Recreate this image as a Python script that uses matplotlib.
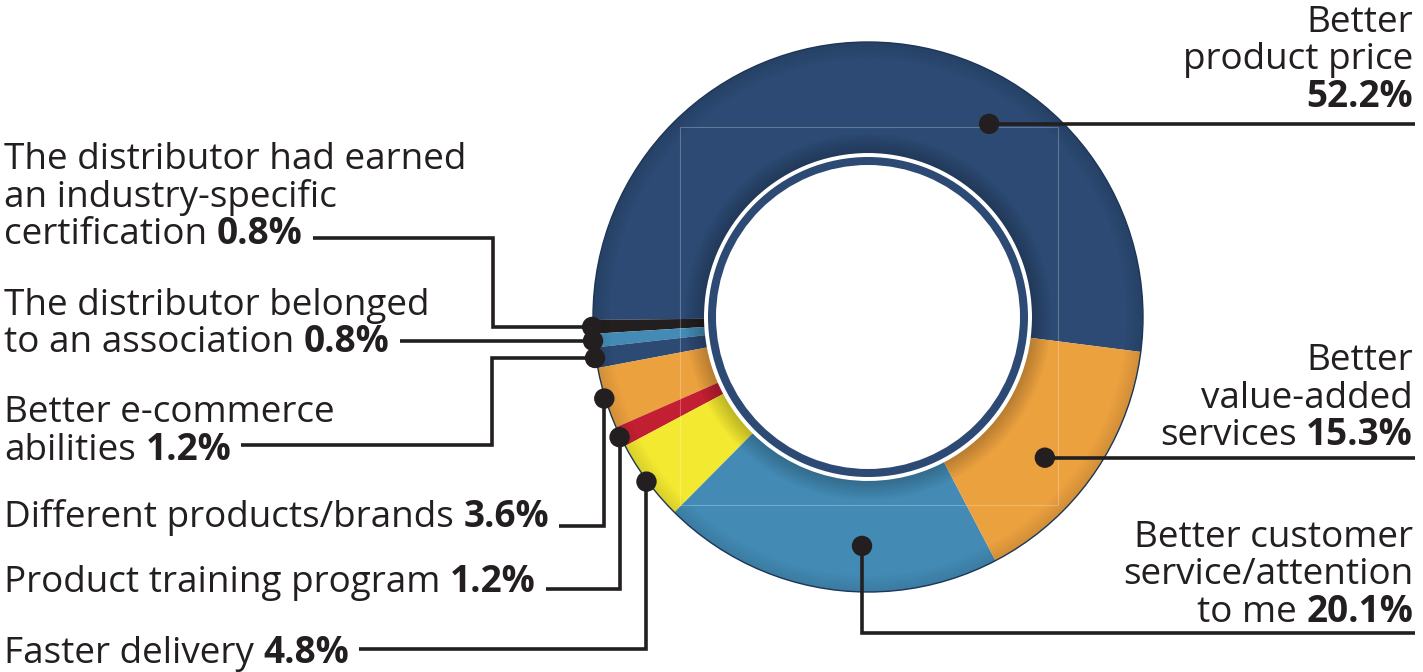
"""Donut chart: reasons for choosing a distributor."""

import matplotlib
matplotlib.use("Agg")
import numpy as np
import matplotlib.pyplot as plt
from matplotlib.patches import Wedge, Circle, Rectangle

W, H = 1423, 672

# slices, counter-clockwise on screen starting at the right side
names = [
    "Better product price",
    "Industry-specific certification",
    "Belonged to an association",
    "Better e-commerce abilities",
    "Different products/brands",
    "Product training program",
    "Faster delivery",
    "Better customer service/attention to me",
    "Better value-added services",
]
values = [52.2, 0.8, 0.8, 1.2, 3.6, 1.2, 4.8, 20.1, 15.3]
colors = ["#2c4a73", "#231f20", "#438bb5", "#2c4a73", "#eca13f",
          "#c21f32", "#f4e931", "#438bb5", "#eca13f"]

# label text: (regular part, bold part) per line
label_lines = [
    [("Better", ""), ("product price", ""), ("", "52.2%")],
    [("The distributor had earned", ""), ("an industry-specific", ""), ("certification", "0.8%")],
    [("The distributor belonged", ""), ("to an association", "0.8%")],
    [("Better e-commerce", ""), ("abilities", "1.2%")],
    [("Different products/brands", "3.6%")],
    [("Product training program", "1.2%")],
    [("Faster delivery", "4.8%")],
    [("Better customer", ""), ("service/attention", ""), ("to me", "20.1%")],
    [("Better", ""), ("value-added", ""), ("services", "15.3%")],
]

# layout (pixels)
CX, CY = 868, 317
R_OUT, R_IN = 275, 164
INK = "#231f20"
FONT = "Open Sans"
FS = 26.6
LEAD = 37.5

# per label: side, text anchor x, first baseline, dot (angle, radius), route
layout = [
    dict(side="right", x=1413, y0=32, dot=(57.9, 228), route="h", ly=None),
    dict(side="left", x=4, y0=169, dot=(None, 276), route="up", vx=493, ly=238),
    dict(side="left", x=4, y0=315, dot=(None, 276), route="h", ly=None),
    dict(side="left", x=4, y0=422, dot=(None, 276), route="up", vx=492, ly=445),
    dict(side="left", x=4, y0=527, dot=(None, 276), route="down", ly=526),
    dict(side="left", x=4, y0=592, dot=(None, 276), route="down", ly=589),
    dict(side="left", x=4, y0=663, dot=(None, 276), route="down", ly=649),
    dict(side="right", x=1413, y0=547, dot=(268.5, 229), route="down", ly=633),
    dict(side="right", x=1413, y0=370, dot=(321.5, 226), route="h", ly=None),
]

fig = plt.figure(figsize=(W / 100, H / 100), dpi=100)
ax = fig.add_axes([0, 0, 1, 1])

start = -7.3  # screen angle of the first slice edge
ax.pie(values, colors=colors, radius=R_OUT, center=(CX, CY),
       startangle=-start, counterclock=False,
       wedgeprops=dict(width=R_OUT - R_IN, linewidth=0))
ax.set_xlim(0, W)
ax.set_ylim(H, 0)
ax.set_aspect("equal")
ax.axis("off")

# soft shading at the rim and at the hole
for i in range(14):
    r = R_OUT - i * 1.2
    ax.add_patch(Wedge((CX, CY), r, 0, 360, width=1.2, color="black",
                       alpha=0.11 * (1 - i / 14), lw=0))
for i in range(16):
    r = R_IN + (i + 1) * 1.2
    ax.add_patch(Wedge((CX, CY), r, 0, 360, width=1.2, color="black",
                       alpha=0.22 * (1 - i / 16), lw=0))
ax.add_patch(Circle((CX, CY), R_OUT, fill=False, ec="#1d3557", lw=1.0))

# faint guide box left over in the artwork
ax.add_patch(Rectangle((680, 127), 378, 378, fill=False, ec="white",
                       lw=0.8, alpha=0.25))

# inner ring
ax.add_patch(Wedge((CX, CY), 160, 0, 360, width=8, color="#2c4a73", lw=0))

# mid angles of slices on screen
fracs = np.array(values) / sum(values) * 360
edges = start + np.concatenate([[0], np.cumsum(fracs)])
mids = (edges[:-1] + edges[1:]) / 2

fig.canvas.draw()
rend = fig.canvas.get_renderer()


def width_of(t):
    return t.get_window_extent(rend).width


probe1 = ax.text(0, 0, "x x", fontsize=FS, family=FONT)
probe2 = ax.text(0, 0, "xx", fontsize=FS, family=FONT)
SPACE = width_of(probe1) - width_of(probe2)
probe1.remove()
probe2.remove()


def put_line(x, y, reg, bold, side):
    kw = dict(fontsize=FS, family=FONT, color=INK, va="baseline")
    if side == "left":
        right = x
        if reg:
            t = ax.text(x, y, reg, ha="left", **kw)
            right = x + width_of(t)
        if bold:
            bx = right + (SPACE if reg else 0)
            tb = ax.text(bx, y, bold, ha="left", fontweight="bold", **kw)
            right = bx + width_of(tb)
        return right
    else:
        left = x
        if bold:
            tb = ax.text(x, y, bold, ha="right", fontweight="bold", **kw)
            left = x - width_of(tb)
        if reg:
            rx = left - (SPACE if bold else 0)
            ax.text(rx, y, reg, ha="right", **kw)
        return left


for i, (lines, lay) in enumerate(zip(label_lines, layout)):
    ends = []
    for j, (reg, bold) in enumerate(lines):
        ends.append(put_line(lay["x"], lay["y0"] + j * LEAD, reg, bold, lay["side"]))

    ang, rad = lay["dot"]
    phi = np.radians(mids[i] if ang is None else ang)
    dx = CX + rad * np.cos(phi)
    dy = CY - rad * np.sin(phi)

    if lay["side"] == "left":
        tx = ends[-1] + 10
        if lay["route"] == "h":
            xs, ys = [dx, tx], [dy, dy]
        elif lay["route"] == "up":
            vx = lay["vx"]
            xs, ys = [dx, vx, vx, tx], [dy, dy, lay["ly"], lay["ly"]]
        else:
            xs, ys = [dx, dx, tx], [dy, lay["ly"], lay["ly"]]
    else:
        tx = 1415
        if lay["route"] == "h":
            xs, ys = [dx, tx], [dy, dy]
        else:
            xs, ys = [dx, dx, tx], [dy, lay["ly"], lay["ly"]]

    ax.plot(xs, ys, color=INK, lw=2.6, solid_joinstyle="miter",
            solid_capstyle="butt", zorder=5)
    ax.add_patch(Circle((dx, dy), 9.5, color=INK, zorder=6))

fig.savefig("out.png", dpi=100)
